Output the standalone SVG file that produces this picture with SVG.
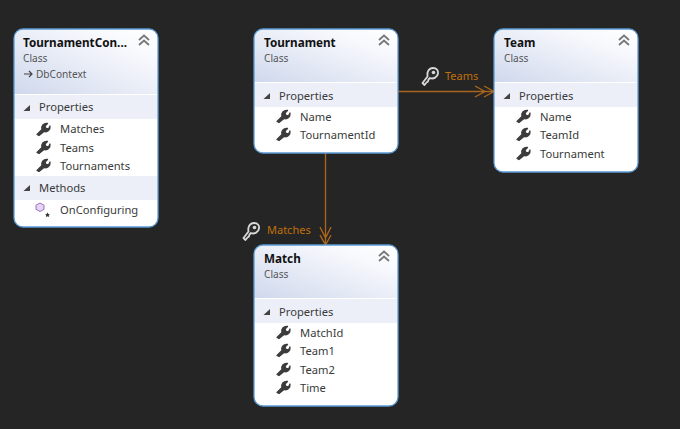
<svg xmlns="http://www.w3.org/2000/svg" width="680" height="429" viewBox="0 0 680 429">
<style>
text{font-family:"Noto Sans","Open Sans","Liberation Sans",sans-serif;font-size:11.200px;fill:#3a3a3a}
.t{font-weight:700;fill:#111;font-size:11.700px}
.c{fill:#555;font-size:10.100px}
.lbl{fill:#c0700a;font-size:11px}
.card{fill:#fff}
.frame{fill:none;stroke:#5b9bd5;stroke-width:1.3}
.band{fill:#eceff8}
.conn{fill:none;stroke:#a9651c;stroke-width:1.400}
</style>
<defs>
<linearGradient id="hd" x1="0" y1="1" x2="1" y2="0"><stop offset="0" stop-color="#cfd8ec"/><stop offset="0.75" stop-color="#f8f9fd"/><stop offset="1" stop-color="#fff"/></linearGradient>
<g id="wrench"><path d="M-6 5.500 L-1 0.500 C-2 -3 0.500 -6 4.500 -5.500 L2 -3 L3 -0.500 L5.500 0 L7 -3 C7.500 1 4.500 3.500 1 2.500 L-4 6.500 Z" fill="#3c3c3c" stroke="#3c3c3c" stroke-width="1.300" stroke-linejoin="round"/></g>
<g id="chev"><path d="M-5 -1 L0 -5.500 L5 -1 M-5 4 L0 -0.500 L5 4" fill="none" stroke="#777" stroke-width="1.800"/></g>
<path id="tri" d="M-3.500 3 L3 3 L3 -3 Z" fill="#444"/>
<g id="key"><path d="M-5.500 9 L-7.500 7 L-2.500 0.500 C-3.500 -4 -1 -8 3 -8 C7 -8 8.500 -5 8 -2.500 C7.500 1 3.500 3.500 0 2 L-1.500 3.500 L-2 5.500 L-3.500 6.500 Z" fill="#2a2a2a" stroke="#d8d8d8" stroke-width="1.800" stroke-linejoin="round"/><circle cx="3.500" cy="-3.500" r="1.800" fill="#d8d8d8"/></g>
</defs>
<rect width="680" height="429" fill="#252525"/>
<g id="connectors">
<path class="conn" d="M398 91.500H493M475 86L485 91.500L475 97M484 86L494 91.500L484 97"/>
<path class="conn" d="M325.500 153V245M320 227L325.500 238L331 227M320 235L325.500 245L331 235"/>
<use href="#key" x="430" y="76"/>
<text class="lbl" x="445" y="80">Teams</text>
<use href="#key" x="251" y="231"/>
<text class="lbl" x="267" y="234">Matches</text>
</g>
<g id="node-context">
<rect class="card" x="14" y="29" width="144" height="198" rx="9"/>
<path d="M14 94V38a9 9 0 0 1 9-9H149a9 9 0 0 1 9 9V94Z" fill="url(#hd)"/>
<rect class="band" x="14.500" y="95" width="143" height="24"/>
<rect class="band" x="14.500" y="176" width="143" height="24"/>
<rect class="frame" x="14" y="29" width="144" height="198" rx="9"/>
<text class="t" x="23" y="47">TournamentCon...</text>
<use href="#chev" x="144" y="41"/>
<text class="c" x="23" y="62">Class</text>
<path d="M24 74H32M29 71L32 74L29 77" fill="none" stroke="#444" stroke-width="1.200"/>
<text class="c" x="36" y="78">DbContext</text>
<use href="#tri" x="27" y="108"/>
<text x="39" y="111">Properties</text>
<use href="#wrench" x="43" y="129"/><text x="60" y="133">Matches</text>
<use href="#wrench" x="43" y="147"/><text x="60" y="152">Teams</text>
<use href="#wrench" x="43" y="165"/><text x="60" y="170">Tournaments</text>
<use href="#tri" x="27" y="188"/>
<text x="39" y="192">Methods</text>
<path d="M40 203L44 205.200V209.300L40 211.500L36 209.300V205.200Z" fill="#e6d5f3" stroke="#9b6fc4" stroke-width="1"/>
<path d="M47.500 212.500l0.800 1.500 1.500 0.500-1 1 0.300 1.500-1.600-0.700-1.600 0.700 0.300-1.500-1-1 1.500-0.500z" fill="#333"/>
<text x="60" y="214">OnConfiguring</text>
</g>
<g id="node-tournament">
<rect class="card" x="254" y="29" width="144" height="124" rx="9"/>
<path d="M254 82V38a9 9 0 0 1 9-9H389a9 9 0 0 1 9 9V82Z" fill="url(#hd)"/>
<rect class="band" x="254.500" y="83" width="143" height="24"/>
<rect class="frame" x="254" y="29" width="144" height="124" rx="9"/>
<text class="t" x="264" y="47">Tournament</text>
<use href="#chev" x="384" y="41"/>
<text class="c" x="264" y="62">Class</text>
<use href="#tri" x="267" y="96"/>
<text x="279" y="100">Properties</text>
<use href="#wrench" x="283" y="116"/><text x="300" y="121">Name</text>
<use href="#wrench" x="283" y="134"/><text x="300" y="139">TournamentId</text>
</g>
<g id="node-team">
<rect class="card" x="494" y="29" width="144" height="143" rx="9"/>
<path d="M494 82V38a9 9 0 0 1 9-9H629a9 9 0 0 1 9 9V82Z" fill="url(#hd)"/>
<rect class="band" x="494.500" y="83" width="143" height="24"/>
<rect class="frame" x="494" y="29" width="144" height="143" rx="9"/>
<text class="t" x="504" y="47">Team</text>
<use href="#chev" x="624" y="41"/>
<text class="c" x="504" y="62">Class</text>
<use href="#tri" x="507" y="96"/>
<text x="519" y="100">Properties</text>
<use href="#wrench" x="523" y="116"/><text x="540" y="121">Name</text>
<use href="#wrench" x="523" y="134"/><text x="540" y="139">TeamId</text>
<use href="#wrench" x="523" y="153"/><text x="540" y="158">Tournament</text>
</g>
<g id="node-match">
<rect class="card" x="254" y="245" width="144" height="161" rx="9"/>
<path d="M254 298V254a9 9 0 0 1 9-9H389a9 9 0 0 1 9 9V298Z" fill="url(#hd)"/>
<rect class="band" x="254.500" y="299" width="143" height="24"/>
<rect class="frame" x="254" y="245" width="144" height="161" rx="9"/>
<text class="t" x="264" y="263">Match</text>
<use href="#chev" x="384" y="257"/>
<text class="c" x="264" y="278">Class</text>
<use href="#tri" x="267" y="312"/>
<text x="279" y="316">Properties</text>
<use href="#wrench" x="283" y="332"/><text x="300" y="337">MatchId</text>
<use href="#wrench" x="283" y="350"/><text x="300" y="355">Team1</text>
<use href="#wrench" x="283" y="369"/><text x="300" y="374">Team2</text>
<use href="#wrench" x="283" y="387"/><text x="300" y="392">Time</text>
</g>
</svg>
